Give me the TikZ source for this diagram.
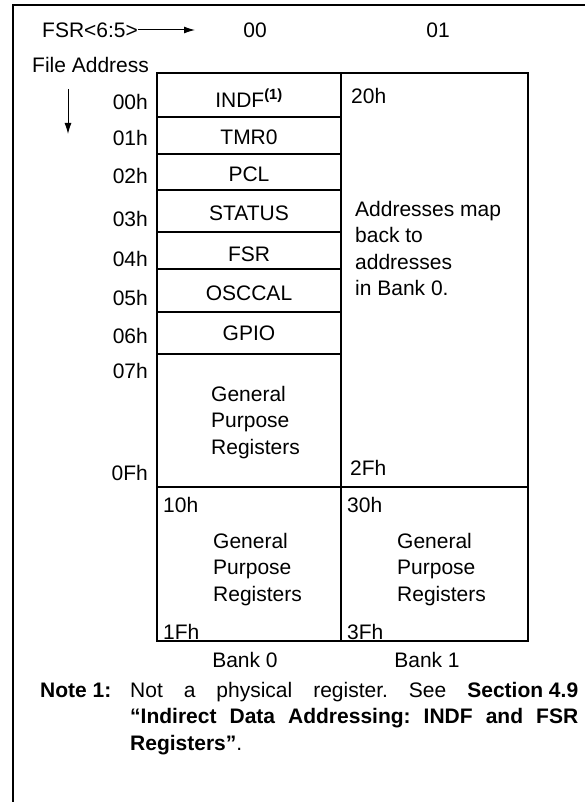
\documentclass[tikz,border=0pt]{standalone}
\usepackage{fontspec}
\setmainfont{Liberation Sans}
\usetikzlibrary{arrows.meta}
\newcommand{\regfont}{\fontsize{21}{26.5}\selectfont}
\frenchspacing

\begin{document}
\begin{tikzpicture}[x=1pt, y=-1pt,
  every node/.style={font=\regfont, inner sep=0pt},
  box/.style={line width=1.6pt},
  addr/.style={anchor=east},
  tag/.style={anchor=west},
  ptr/.style={line width=1pt, -{Latex[length=11pt,width=7pt]}}]
 \useasboundingbox (0,0) rectangle (585,802);
 \draw[line width=2.4pt] (585,5) -- (13,5) -- (13,802);

 \node[tag] (fsr) at (42,30) {FSR<6:5>};
 \coordinate (fsrtip) at (195,30);
 \draw[ptr] (fsr.east) -- (fsrtip);
 \node (bk0sel) at (255,30) {00};
 \node (bk1sel) at (438,30) {01};

 \node[tag] (fileaddr) at (32,65) {File Address};
 \coordinate (addrtop) at (68,89);
 \coordinate (addrbot) at (68,134);
 \draw[ptr] (addrtop) -- (addrbot);

 % address column
 \node[addr] (a00) at (148,102) {00h};
 \node[addr] (a01) at (148,138) {01h};
 \node[addr] (a02) at (148,176) {02h};
 \node[addr] (a03) at (148,219) {03h};
 \node[addr] (a04) at (148,259) {04h};
 \node[addr] (a05) at (148,298) {05h};
 \node[addr] (a06) at (148,336) {06h};
 \node[addr] (a07) at (148,371) {07h};
 \node[addr] (a0f) at (148,473) {0Fh};

 % bank 0, special registers
 \draw[box] (157,73) rectangle (341,487);
 \draw[box] (157,117) -- (341,117);
 \draw[box] (157,154) -- (341,154);
 \draw[box] (157,190) -- (341,190);
 \draw[box] (157,232) -- (341,232);
 \draw[box] (157,269) -- (341,269);
 \draw[box] (157,312) -- (341,312);
 \draw[box] (157,354) -- (341,354);

 \node (indf) at (249,98) {INDF\textsuperscript{\textbf{(1)}}};
 \node (tmr0) at (249,137) {TMR0};
 \node (pcl) at (249,174) {PCL};
 \node (status) at (249,213) {STATUS};
 \node (fsrreg) at (249,254) {FSR};
 \node (osccal) at (249,293) {OSCCAL};
 \node (gpio) at (249,333) {GPIO};
 \node[anchor=north west, align=left] (gpr0) at (211,386) {General\\Purpose\\Registers};

 % bank 1, mapped area
 \draw[box] (341,73) rectangle (528,487);
 \node[tag] (a20) at (351,96) {20h};
 \node[anchor=north west, align=left] (mapnote) at (355,201)
   {Addresses map\\back to\\addresses\\in Bank 0.};
 \node[tag] (a2f) at (350,468) {2Fh};

 % lower halves
 \draw[box] (157,487) rectangle (341,641);
 \draw[box] (341,487) rectangle (528,641);
 \node[tag] (a10) at (163,505) {10h};
 \node[tag] (a1f) at (163,632) {1Fh};
 \node[anchor=north west, align=left] (gpr1) at (213,533) {General\\Purpose\\Registers};
 \node[tag] (a30) at (347,505) {30h};
 \node[tag] (a3f) at (347,632) {3Fh};
 \node[anchor=north west, align=left] (gpr2) at (397,533) {General\\Purpose\\Registers};

 \node (bank0) at (245,660) {Bank 0};
 \node (bank1) at (427,660) {Bank 1};

 % footnote
 \node[tag] (notelbl) at (40,690) {\textbf{Note 1:}};
 \node[anchor=north west, text width=448pt, align=justify] (notetxt) at (130,682)
   {Not a physical register. See \mbox{\textbf{Section 4.9}}\linebreak
    \textbf{``Indirect Data Addressing: INDF and FSR}\linebreak
    \textbf{Registers''}.};
\end{tikzpicture}
\end{document}
